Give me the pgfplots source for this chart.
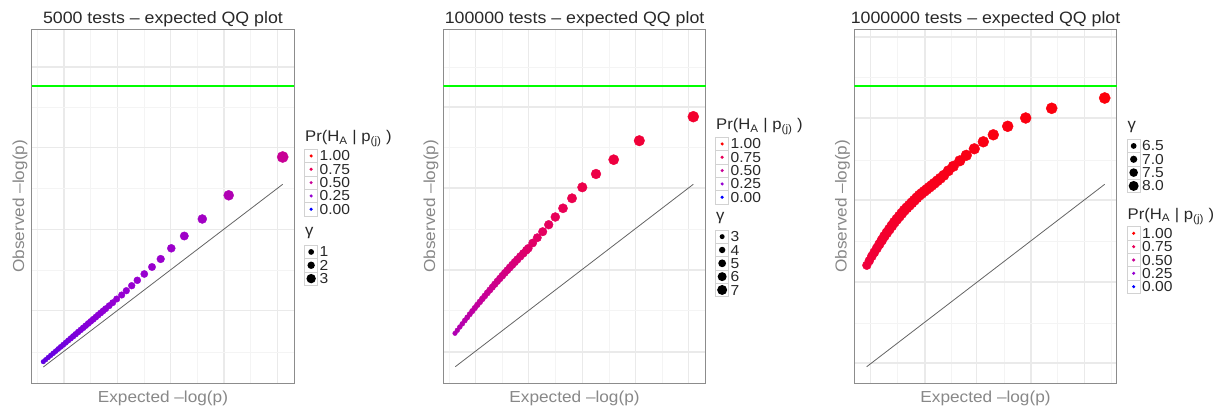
\documentclass[border=0pt]{standalone}
\usepackage{fontspec}
\setmainfont{Liberation Sans}[FakeStretch=1.08]
\usepackage{pgfplots}
\pgfplotsset{compat=1.18}

\definecolor{titlec}{RGB}{40,40,40}
\definecolor{labc}{RGB}{136,136,136}
\definecolor{framec}{RGB}{140,140,140}
\definecolor{gridmaj}{RGB}{234,234,234}
\definecolor{gridmin}{RGB}{244,244,244}
\definecolor{keyc}{RGB}{210,210,210}
\definecolor{diagc}{RGB}{100,100,100}
\definecolor{pr100}{RGB}{255,0,0}
\definecolor{pr075}{RGB}{232,0,88}
\definecolor{pr050}{RGB}{200,0,150}
\definecolor{pr025}{RGB}{150,0,210}
\definecolor{pr000}{RGB}{0,0,255}

\pgfplotsset{
  colormap={pr}{rgb255=(0,0,255) rgb255=(150,0,210) rgb255=(200,0,150) rgb255=(232,0,88) rgb255=(255,0,0)},
  qq/.style={
    scale only axis, width=262.5bp, height=354bp,
    xmin=0, xmax=262.5, ymin=0, ymax=354,
    axis line style={draw=framec, line width=1.2bp},
    xtick style={draw=none}, ytick style={draw=none},
    minor tick style={draw=none},
    xticklabels={,,,,,,}, yticklabels={,,,,,,},
    grid=both,
    major grid style={draw=gridmaj, line width=1.1bp},
    minor grid style={draw=gridmin, line width=0.6bp},
    colormap name=pr, point meta min=0, point meta max=1,
    every axis title/.style={at={(0.5,1.017)}, anchor=base,
      font=\fontsize{16.5}{19}\selectfont, text=titlec},
    every axis x label/.style={at={(0.5,-0.0542)}, anchor=base,
      font=\fontsize{16}{19}\selectfont, text=labc},
    every axis y label/.style={at={(-0.029,0.5)}, rotate=90, anchor=base,
      font=\fontsize{16}{19}\selectfont, text=labc},
    xlabel={Expected --log(p)}, ylabel={Observed --log(p)},
  },
  pts/.style={scatter, only marks, mark=*, point meta=explicit,
    scatter/use mapped color={draw=mapped color, fill=mapped color},
    visualization depends on={\thisrow{r} \as \rad},
    scatter/@pre marker code/.append style={/tikz/mark size=\rad bp}},
  diag/.style={draw=diagc, line width=0.8bp, no marks},
  gline/.style={draw=green, line width=2.2bp, no marks},
}

\tikzset{
  keybox/.style={draw=keyc, fill=white, line width=0.7bp},
  legtitle/.style={font=\fontsize{15.5}{18}\selectfont, text=titlec, inner sep=0pt},
  leglab/.style={font=\fontsize{14.5}{16}\selectfont, text=titlec, inner sep=0pt},
}

% #1 = left of the key boxes (bp), #2 = top of the first key (px from the top)
\newcommand\prlegend[2]{%
  \node[legtitle, anchor=base west] at ({#1bp+0.5bp},{(411-#2+7.5)*1bp})
    {Pr(H\textsubscript{A} | p\textsubscript{(j)} )};
  \foreach \lab/\col [count=\i from 0] in {1.00/pr100,0.75/pr075,0.50/pr050,0.25/pr025,0.00/pr000}{
    \pgfmathsetmacro\yt{411-#2-13.33*\i}
    \draw[keybox] (#1bp,\yt bp) rectangle ++(13.3bp,-13.3bp);
    \fill[\col] ({#1bp+6.65bp},{\yt bp-6.65bp}) circle (1.7bp);
    \node[leglab, anchor=base west] at ({#1bp+15bp},{\yt bp-11.7bp}) {\lab};
  }}
% #3 = label/radius list
\newcommand\glegend[3]{%
  \node[legtitle, anchor=base west] at ({#1bp+0.5bp},{(411-#2+9.5)*1bp}) {γ};
  \foreach \lab/\rd [count=\i from 0] in {#3}{
    \pgfmathsetmacro\yt{411-#2-13.33*\i}
    \draw[keybox] (#1bp,\yt bp) rectangle ++(13.3bp,-13.3bp);
    \fill[black] ({#1bp+6.65bp},{\yt bp-6.65bp}) circle (\rd bp);
    \node[leglab, anchor=base west] at ({#1bp+15bp},{\yt bp-11.7bp}) {\lab};
  }}

\begin{document}
\begin{tikzpicture}
\useasboundingbox (0,0) rectangle (1224bp,411bp);

% ---------- 5000 tests ----------
\begin{axis}[qq, at={(31.7bp,27.7bp)}, anchor=south west,
  title={5000 tests -- expected QQ plot},
  xtick={32.3,85.6,139,192.3,245.6}, minor xtick={5.6,59,112.3,165.6,219},
  ytick={72.6,154,236,316.3}, minor ytick={31.3,113.3,195.3,276.3}]
\addplot[gline] coordinates {(0,297.3) (262.5,297.3)};
\addplot[diag] coordinates {(11.6,16.3) (251,199)};
\addplot[pts] table[x=x, y=y, meta=c] {
x y c r
11.6 21.6 0.16 2.3
14 23.6 0.165 2.35
16.5 25.8 0.17 2.4
19 27.9 0.17 2.45
21.5 30.0 0.175 2.5
24 32.1 0.18 2.55
26.5 34.3 0.18 2.6
29 36.4 0.185 2.65
31.5 38.5 0.19 2.7
34 40.6 0.19 2.75
36.5 42.8 0.195 2.8
39 44.9 0.2 2.85
41.5 47.0 0.2 2.9
44 49.1 0.205 2.95
46.5 51.3 0.21 3.0
49 53.4 0.21 3.0
51.5 55.5 0.215 3.05
54 57.6 0.22 3.05
56.5 59.8 0.22 3.1
59 61.9 0.225 3.1
61.5 64.0 0.23 3.15
64 66.1 0.23 3.15
66.5 68.3 0.235 3.2
69 70.4 0.235 3.2
71.5 72.5 0.24 3.2
74 74.6 0.24 3.2
77.5 77.6 0.24 3.2
81 80.6 0.245 3.2
85 84.3 0.25 3.25
90 88.3 0.25 3.3
94.6 92.6 0.25 3.35
100 97.6 0.255 3.4
105.6 103 0.26 3.5
112.6 109.3 0.26 3.6
120.3 116.3 0.265 3.7
129 124.3 0.27 3.85
139.6 135 0.28 4.0
152.6 147.3 0.29 4.2
170.6 164.3 0.31 4.5
197 188 0.38 5.0
251 226.3 0.5 5.6
};
\end{axis}

% ---------- 100000 tests ----------
\begin{axis}[qq, at={(443.3bp,27.7bp)}, anchor=south west,
  title={100000 tests -- expected QQ plot},
  every axis y label/.append style={at={(-0.031,0.5)}},
  xtick={32.3,85.6,139,192.3,245.6}, minor xtick={5.6,59,112.3,165.6,219},
  ytick={31.3,113.3,195.3,276.3}, minor ytick={72.6,154,236,316.3}]
\addplot[gline] coordinates {(0,297.3) (262.5,297.3)};
\addplot[diag] coordinates {(12,16.6) (250,199)};
\addplot[pts] table[x=x, y=y, meta=c] {
x y c r
11.7 50.0 0.38 2.3
14 53.0 0.39 2.4
16.5 56.3 0.40 2.45
19 59.5 0.41 2.5
21.5 62.8 0.42 2.6
24 65.9 0.43 2.65
26.5 69.1 0.44 2.7
29 72.2 0.45 2.8
31.5 75.3 0.46 2.85
34 78.4 0.47 2.9
36.5 81.4 0.48 3.0
39 84.4 0.49 3.05
41.5 87.4 0.50 3.1
44 90.4 0.51 3.2
46.5 93.3 0.52 3.25
49 96.2 0.53 3.3
51.5 99.1 0.54 3.4
54 102.0 0.55 3.45
56.5 104.8 0.56 3.5
59 107.6 0.57 3.6
61.5 110.4 0.58 3.65
64 113.1 0.59 3.7
66.5 115.8 0.60 3.75
69 118.5 0.61 3.8
71.5 121.2 0.62 3.85
74 123.8 0.63 3.9
77 126.9 0.64 3.95
80 129.9 0.66 4.0
83 133.0 0.67 4.05
85 135 0.68 4.1
89.4 140.3 0.69 4.15
94 145.6 0.70 4.2
99.4 151.6 0.72 4.3
105.4 158.6 0.73 4.4
112 166.3 0.75 4.5
119.7 175 0.76 4.6
128.7 185 0.78 4.7
139 196 0.79 4.8
152.7 209.3 0.80 4.9
170.4 223.6 0.82 5.1
196 242.6 0.84 5.3
250 266.6 0.87 5.5
};
\end{axis}

% ---------- 1000000 tests ----------
\begin{axis}[qq, at={(854.3bp,27.7bp)}, anchor=south west,
  title={1000000 tests -- expected QQ plot},
  xtick={16.4,70.7,122.4,176.7,230}, minor xtick={43.4,96.7,149.7,203.4,256.7},
  ytick={20.3,101.3,183.3,265.3,346.3}, minor ytick={60.3,142.3,223.3,306.3}]
\addplot[gline] coordinates {(0,297.3) (262.5,297.3)};
\addplot[diag] coordinates {(12.4,16.6) (250.4,199)};
\addplot[pts] table[x=x, y=y, meta=c] {
x y c r
12.5 118 0.83 4.4
15 122.5 0.835 4.5
17.5 127 0.84 4.6
20 131 0.845 4.7
22.5 135 0.85 4.8
25 139 0.855 4.9
27.5 143 0.86 5.0
30 147 0.865 5.05
32.5 150.5 0.87 5.1
35 154 0.87 5.15
37.5 157.5 0.875 5.2
40 161 0.88 5.2
42.5 164 0.88 5.25
45 167 0.885 5.25
47.5 170 0.89 5.3
50 173 0.89 5.3
52.5 175.5 0.895 5.3
55 178 0.9 5.3
57.5 180.5 0.9 5.3
60 183 0.905 5.3
62.5 185.5 0.905 5.3
65 188 0.91 5.3
67.5 190 0.91 5.3
70 192 0.915 5.3
72.5 194 0.915 5.3
75 196 0.92 5.3
77.5 198 0.92 5.3
80 200 0.92 5.3
83 202.5 0.925 5.3
86 205 0.925 5.3
89.5 208 0.93 5.3
94 212.5 0.93 5.3
99 217 0.935 5.35
105.5 222.5 0.935 5.35
112 228 0.94 5.4
120 234.5 0.94 5.4
129 241.5 0.945 5.45
139 248.5 0.95 5.45
153.4 257 0.95 5.5
171.4 265.3 0.955 5.5
197.4 275 0.96 5.55
250.4 285.3 0.97 5.6
};
\end{axis}

% ---------- legends ----------
\prlegend{304.5}{149.3}
\glegend{304.5}{245.3}{1/2.9,2/3.7,3/4.7}
\prlegend{715.5}{137.3}
\glegend{715.5}{230}{3/2.5,4/3.2,5/3.9,6/4.5,7/5.0}
\glegend{1127}{139.3}{6.5/2.9,7.0/3.6,7.5/4.3,8.0/5.0}
\prlegend{1127}{226.7}
\end{tikzpicture}
\end{document}
